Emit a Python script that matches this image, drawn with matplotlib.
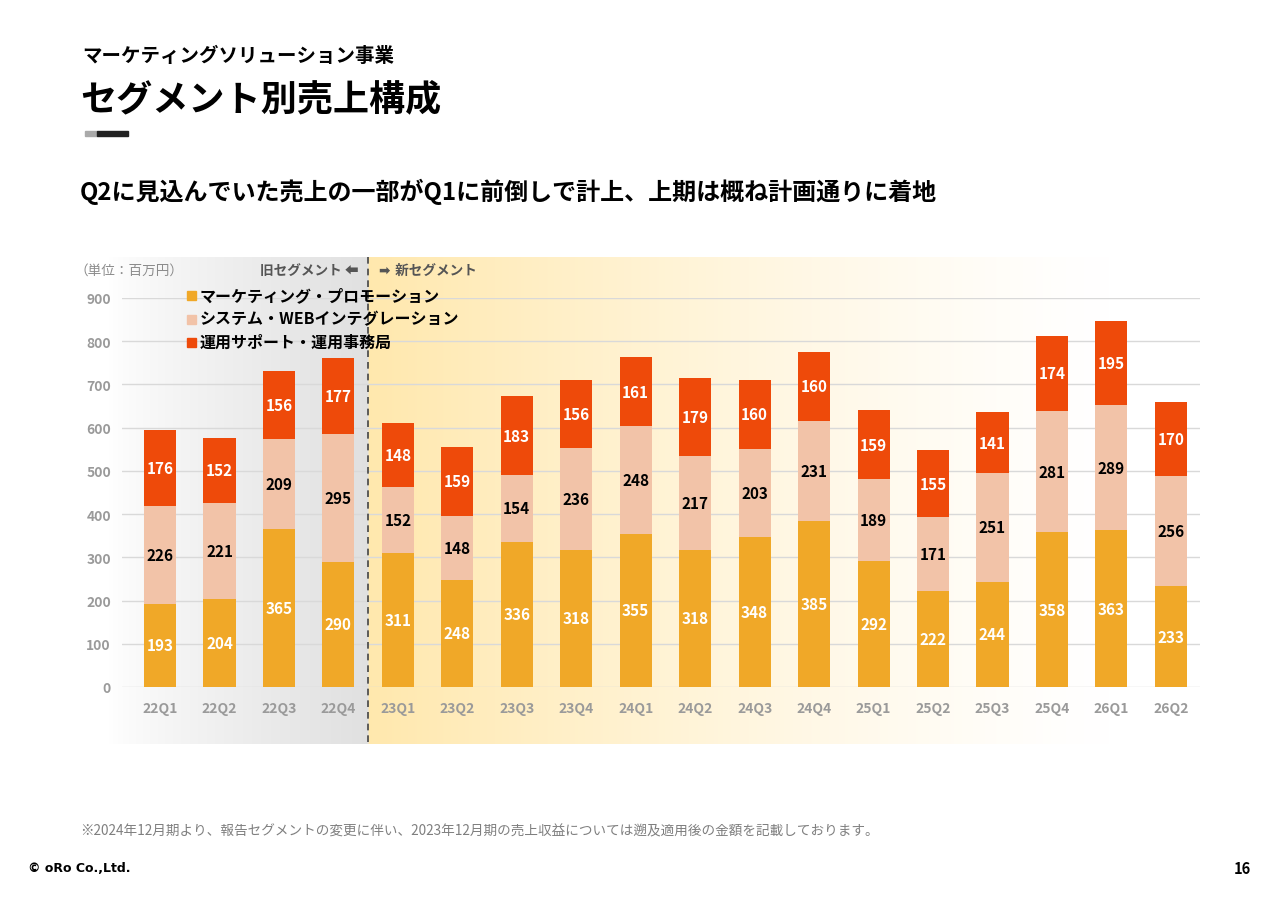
#!/usr/bin/env python3

"""
Segment revenue composition, stacked bars
"""

import numpy as np
import matplotlib.pyplot as plt
from matplotlib.lines import Line2D
from matplotlib.patches import Rectangle

plt.rcParams['font.family'] = ['Noto Sans CJK JP', 'DejaVu Sans']

# Data (million yen)
quarters = ["22Q1", "22Q2", "22Q3", "22Q4", "23Q1", "23Q2", "23Q3", "23Q4", "24Q1",
            "24Q2", "24Q3", "24Q4", "25Q1", "25Q2", "25Q3", "25Q4", "26Q1", "26Q2"]
marketing = [193, 204, 365, 290, 311, 248, 336, 318, 355, 318, 348, 385, 292, 222, 244, 358, 363, 233]
system_web = [226, 221, 209, 295, 152, 148, 154, 236, 248, 217, 203, 231, 189, 171, 251, 281, 289, 256]
operation = [176, 152, 156, 177, 148, 159, 183, 156, 161, 179, 160, 160, 159, 155, 141, 174, 195, 170]
series_names = ["マーケティング・プロモーション", "システム・WEBインテグレーション", "運用サポート・運用事務局"]
yticks = [0, 100, 200, 300, 400, 500, 600, 700, 800, 900]

colors = ["#F0A828", "#F2C3A8", "#EE4A0A"]
label_colors = ["white", "black", "white"]

W, H = 1280, 904
fig = plt.figure(figsize=(W / 100, H / 100), dpi=100)


def fx(px):
    return px / W


def fy(py):
    return 1 - py / H


# Background gradients (grey = old segment, yellow = new segment)
bg_left, bg_split, bg_right = 108, 368, 1110
bg_top, bg_bottom = 258, 745
bg = fig.add_axes([fx(bg_left), fy(bg_bottom), fx(bg_right - bg_left), (bg_bottom - bg_top) / H])
bg.set_axis_off()
n = 600
xs = np.linspace(bg_left, bg_right, n)
img = np.ones((1, n, 3))
for i, x in enumerate(xs):
    if x < bg_split:
        t = (x - bg_left) / (bg_split - bg_left)
        g = 1 - 0.12 * t ** 0.8
        img[0, i] = [g, g, g]
    else:
        t = (x - bg_split) / (bg_right - bg_split)
        a = (1 - t) ** 1.3
        img[0, i] = np.array([1, 1, 1]) * (1 - a) + np.array([1.0, 0.91, 0.68]) * a
bg.imshow(img, aspect="auto", extent=[0, 1, 0, 1])
bg.set_xlim(0, 1)
bg.set_ylim(0, 1)

fig.add_artist(Line2D([fx(bg_split), fx(bg_split)], [fy(bg_top), fy(bg_bottom)],
                      color="#444444", lw=1.2, ls=(0, (4, 3))))

# Main chart
ax = fig.add_axes([fx(122), fy(688), fx(1200 - 122), (688 - 299) / H])
ax.patch.set_alpha(0)
x = np.arange(len(quarters))
bottom = np.zeros(len(quarters))
for vals, c, lc in zip([marketing, system_web, operation], colors, label_colors):
    vals = np.array(vals)
    ax.bar(x, vals, 0.54, bottom=bottom, color=c, zorder=3)
    for xi, b, v in zip(x, bottom, vals):
        ax.text(xi, b + v / 2, str(v), ha="center", va="center", color=lc,
                fontsize=11, fontweight="bold", zorder=4)
    bottom = bottom + vals

ax.set_xlim(-0.64, 17.49)
ax.set_ylim(0, 900)
ax.set_yticks(yticks)
ax.set_xticks(x)
ax.set_xticklabels(quarters)
ax.grid(axis="y", color="#D9D9D9", lw=1, zorder=0)
for s in ax.spines.values():
    s.set_visible(False)
ax.tick_params(length=0, colors="#9A9A9A", labelsize=10)
ax.tick_params(axis="x", pad=10)
ax.tick_params(axis="y", pad=8)
for lbl in ax.get_xticklabels() + ax.get_yticklabels():
    lbl.set_fontweight("bold")

# Legend
for i, (name, c) in enumerate(zip(series_names, colors)):
    py = 296 + i * 23.5
    fig.add_artist(Rectangle((fx(187), fy(py + 5)), fx(9), 9 / H, color=c))
    fig.text(fx(200), fy(py), name, fontsize=11.5, fontweight="bold", va="center")

# Segment labels
fig.text(fx(75), fy(271), "（単位：百万円）", fontsize=9.8, color="#8C8C8C", va="center")
fig.text(fx(358), fy(271), "旧セグメント ⬅", fontsize=9.8, color="#555555",
         fontweight="bold", va="center", ha="right", family=["Noto Sans CJK JP", "DejaVu Sans"])
fig.text(fx(379), fy(271), "➡ 新セグメント", fontsize=9.8, color="#555555",
         fontweight="bold", va="center", ha="left", family=["DejaVu Sans", "Noto Sans CJK JP"])

# Header
fig.text(fx(82), fy(56), "マーケティングソリューション事業", fontsize=14, fontweight="bold", va="center")
fig.text(fx(80), fy(100), "セグメント別売上構成", fontsize=26, fontweight="bold", va="center")
fig.add_artist(Rectangle((fx(85), fy(137)), fx(12), 5 / H, color="#AAAAAA"))
fig.add_artist(Rectangle((fx(97), fy(137)), fx(31), 5 / H, color="#222222"))
fig.text(fx(80), fy(192), "Q2に見込んでいた売上の一部がQ1に前倒しで計上、上期は概ね計画通りに着地",
         fontsize=17.3, fontweight="bold", va="center")

# Footer
fig.text(fx(80), fy(831), "※2024年12月期より、報告セグメントの変更に伴い、2023年12月期の売上収益については遡及適用後の金額を記載しております。",
         fontsize=9.8, color="#7F7F7F", va="center")
fig.text(fx(28), fy(869), "© oRo Co.,Ltd.", fontsize=9, fontweight="bold", va="center",
         family=["DejaVu Sans"])
fig.text(fx(1251), fy(869), "16", fontsize=10.5, fontweight="bold", va="center", ha="right")

fig.savefig("out.png", dpi=100)
